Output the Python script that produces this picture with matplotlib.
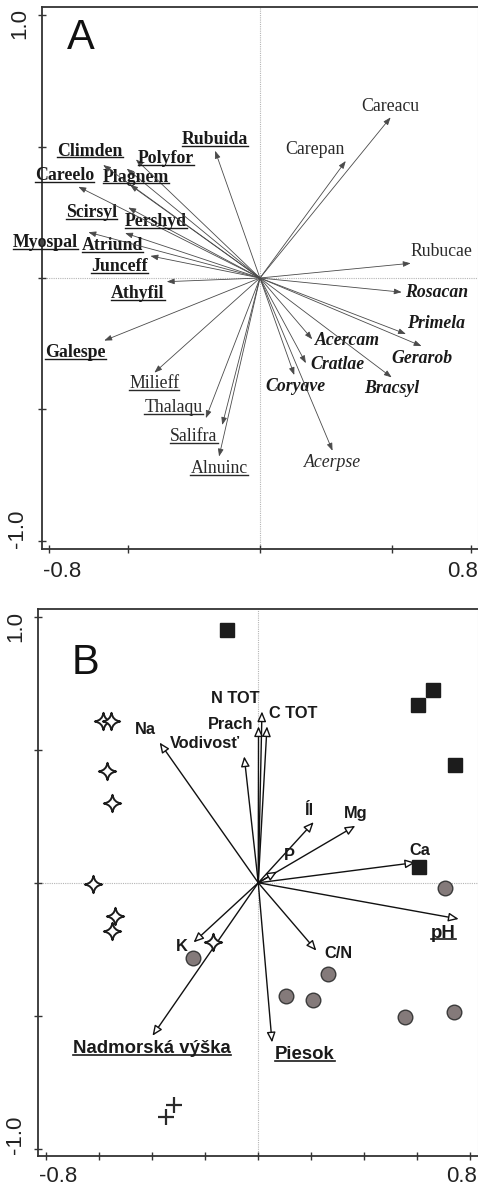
"""Two-panel ordination biplot: A = species arrows, B = environment arrows + releves."""

import matplotlib
matplotlib.use("Agg")
import matplotlib.pyplot as plt
from matplotlib.lines import Line2D
from matplotlib.path import Path
from matplotlib.patches import ArrowStyle
from matplotlib.transforms import IdentityTransform

W, H, DPI = 478, 1189, 100

# ---------------------------------------------------------------- panel A data
SPECIES = ["Careacu", "Carepan", "Rubucae", "Rosacan", "Primela", "Gerarob",
           "Acercam", "Cratlae", "Bracsyl", "Coryave", "Acerpse", "Alnuinc",
           "Salifra", "Thalaqu", "Milieff", "Galespe", "Athyfil", "Junceff",
           "Atriund", "Myospal", "Pershyd", "Scirsyl", "Careelo", "Plagnem",
           "Climden", "Polyfor", "Rubuida"]
SPECIES_X = [0.495, 0.325, 0.571, 0.537, 0.553, 0.612, 0.198, 0.174, 0.499,
             0.130, 0.275, -0.155, -0.143, -0.205, -0.400, -0.590, -0.353,
             -0.415, -0.511, -0.650, -0.499, -0.492, -0.688, -0.505, -0.594,
             -0.470, -0.170]
SPECIES_Y = [0.611, 0.445, 0.056, -0.054, -0.213, -0.259, -0.233, -0.324,
             -0.378, -0.369, -0.657, -0.679, -0.559, -0.533, -0.360, -0.238,
             -0.014, 0.084, 0.171, 0.174, 0.268, 0.354, 0.347, 0.416, 0.430,
             0.451, 0.484]
# species group -> typeface (u = underlined)
SPECIES_GROUP = ["r", "r", "r", "bi", "bi", "bi", "bi", "bi", "bi", "bi", "i",
                 "ru", "ru", "ru", "ru", "bu", "bu", "bu", "bu", "bu", "bu",
                 "bu", "bu", "bu", "bu", "bu", "bu"]
SPECIES_LABEL_XY = {
    "Careacu": (0.495, 0.654), "Carepan": (0.208, 0.490), "Rubucae": (0.688, 0.100),
    "Rosacan": (0.669, -0.054), "Primela": (0.667, -0.172), "Gerarob": (0.612, -0.305),
    "Acercam": (0.332, -0.236), "Cratlae": (0.294, -0.328), "Bracsyl": (0.499, -0.422),
    "Coryave": (0.133, -0.413), "Acerpse": (0.275, -0.701), "Alnuinc": (-0.155, -0.726),
    "Salifra": (-0.250, -0.603), "Thalaqu": (-0.328, -0.493), "Milieff": (-0.400, -0.403),
    "Galespe": (-0.698, -0.284), "Athyfil": (-0.463, -0.058), "Junceff": (-0.533, 0.043),
    "Atriund": (-0.558, 0.123), "Myospal": (-0.814, 0.136), "Pershyd": (-0.394, 0.214),
    "Scirsyl": (-0.638, 0.250), "Careelo": (-0.741, 0.389), "Plagnem": (-0.470, 0.384),
    "Climden": (-0.644, 0.483), "Polyfor": (-0.356, 0.455), "Rubuida": (-0.170, 0.527),
}

# ---------------------------------------------------------------- panel B data
ENV = ["Na", "Vodivosť", "N TOT", "Prach", "C TOT", "Íl", "Mg", "P", "Ca",
       "pH", "K", "C/N", "Nadmorská výška", "Piesok"]
ENV_X = [-0.372, -0.053, 0.014, 0.001, 0.033, 0.209, 0.366, 0.071, 0.592,
         0.756, -0.244, 0.219, -0.399, 0.052]
ENV_Y = [0.527, 0.475, 0.644, 0.588, 0.588, 0.228, 0.214, 0.042, 0.076,
         -0.136, -0.224, -0.255, -0.575, -0.600]
ENV_UNDERLINED = ["pH", "Nadmorská výška", "Piesok"]
ENV_LABEL_XY = {
    "Na": (-0.426, 0.575), "Vodivosť": (-0.200, 0.525), "N TOT": (-0.087, 0.694),
    "Prach": (-0.106, 0.594), "C TOT": (0.133, 0.638), "Íl": (0.192, 0.272),
    "Mg": (0.366, 0.259), "P": (0.118, 0.103), "Ca": (0.611, 0.121),
    "pH": (0.699, -0.189), "K": (-0.288, -0.240), "C/N": (0.301, -0.265),
    "Nadmorská výška": (-0.401, -0.624), "Piesok": (0.175, -0.647),
}

SQUARE_X = [-0.118, 0.658, 0.601, 0.741, 0.605]
SQUARE_Y = [0.949, 0.723, 0.667, 0.441, 0.058]
CIRCLE_X = [0.703, -0.248, 0.263, 0.106, 0.206, 0.555, 0.737]
CIRCLE_Y = [-0.020, -0.283, -0.343, -0.427, -0.442, -0.505, -0.484]
STAR_X = [-0.584, -0.555, -0.571, -0.550, -0.624, -0.540, -0.550, -0.172]
STAR_Y = [0.610, 0.610, 0.421, 0.300, -0.005, -0.124, -0.183, -0.223]
CROSS_X = [-0.319, -0.347]
CROSS_Y = [-0.835, -0.882]

SERIF = "Liberation Serif"
SANS = "Liberation Sans"


def px(x, y):
    """pixel position (from top-left) -> figure fraction"""
    return x / W, 1 - y / H


def style_axes(ax, xlim, ylim, xticks, yticks):
    ax.set_xlim(*xlim)
    ax.set_ylim(*ylim)
    ax.set_xticks(xticks)
    ax.set_yticks(yticks)
    ax.tick_params(direction="inout", length=6, width=1, color="#333333",
                   labelleft=False, labelbottom=False)
    for side in ("left", "bottom", "top"):
        ax.spines[side].set_color("#333333")
        ax.spines[side].set_linewidth(1.3)
    ax.spines["right"].set_color("#cfcfcf")
    ax.spines["right"].set_linewidth(0.8)
    ax.axhline(0, color="#b5b5b5", lw=0.8, ls=(0, (1, 1)), zorder=0)
    ax.axvline(0, color="#b5b5b5", lw=0.8, ls=(0, (1, 1)), zorder=0)


def star_marker():
    # four-pointed star with concave sides
    c = 0.13
    verts = [(0, 1), (c, c), (1, 0), (c, -c), (0, -1), (-c, -c), (-1, 0),
             (-c, c), (0, 1), (0, 1)]
    codes = [Path.MOVETO] + [Path.CURVE3] * 8 + [Path.CLOSEPOLY]
    return Path(verts, codes)


fig = plt.figure(figsize=(W / DPI, H / DPI), dpi=DPI)
fig.patch.set_facecolor("white")

# ---------------------------------------------------------------- panel A
axA = fig.add_axes([41.7 / W, 1 - 549.3 / H, 436 / W, 542.6 / H])
style_axes(axA, (-0.827, 0.825), (-1.032, 1.032),
           [-0.8, -0.5, 0, 0.5, 0.8], [-1, -0.5, 0, 0.5, 1])

headA = ArrowStyle("-|>", head_length=0.75, head_width=0.28)
fonts = {
    "r": dict(weight="normal", style="normal"),
    "ru": dict(weight="normal", style="normal"),
    "i": dict(weight="normal", style="italic"),
    "bi": dict(weight="bold", style="italic"),
    "bu": dict(weight="bold", style="normal"),
}
underlined = []
for name, x, y, grp in zip(SPECIES, SPECIES_X, SPECIES_Y, SPECIES_GROUP):
    axA.annotate("", xy=(x, y), xytext=(0, 0),
                 arrowprops=dict(arrowstyle=headA, color="#4a4a4a", lw=0.6,
                                 shrinkA=0, shrinkB=0, mutation_scale=6))
    lx, ly = SPECIES_LABEL_XY[name]
    col = "#2a2a2a" if grp in ("r", "ru", "i") else "#1a1a1a"
    t = axA.text(lx, ly, name, family=SERIF, fontsize=12.8, color=col,
                 ha="center", va="center", clip_on=False, **fonts[grp])
    if grp.endswith("u"):
        underlined.append((t, 1.0))

# ---------------------------------------------------------------- panel B
axB = fig.add_axes([37.7 / W, 1 - 1156 / H, 439.8 / W, 546.7 / H])
style_axes(axB, (-0.832, 0.827), (-1.027, 1.028),
           [-0.8, -0.6, -0.4, -0.2, 0, 0.2, 0.4, 0.6, 0.8],
           [-1, -0.5, 0, 0.5, 1])

headB = ArrowStyle("-|>", head_length=0.6, head_width=0.26)
for name, x, y in zip(ENV, ENV_X, ENV_Y):
    axB.annotate("", xy=(x, y), xytext=(0, 0),
                 arrowprops=dict(arrowstyle=headB, fc="white", ec="#111111",
                                 lw=1.0, shrinkA=0, shrinkB=0,
                                 mutation_scale=10), zorder=3)
    lx, ly = ENV_LABEL_XY[name]
    big = name in ENV_UNDERLINED
    t = axB.text(lx, ly, name, family=SANS, weight="bold",
                 fontsize=13.4 if big else 11.8, color="#1a1a1a",
                 ha="center", va="center", zorder=4)
    if big:
        underlined.append((t, 1.2))

axB.plot(SQUARE_X, SQUARE_Y, ls="none", marker="s", ms=10.5, mfc="#1c1c1c",
         mec="#1c1c1c", zorder=5)
axB.plot(CIRCLE_X, CIRCLE_Y, ls="none", marker="o", ms=10.5, mfc="#847a7a",
         mec="#3a3a3a", mew=1.0, zorder=5)
axB.plot(STAR_X, STAR_Y, ls="none", marker=star_marker(), ms=12.5,
         mfc="white", mec="#1c1c1c", mew=1.4, zorder=5)
axB.plot(CROSS_X, CROSS_Y, ls="none", marker="+", ms=12, mec="#2a2a2a",
         mew=1.6, zorder=5)

# ---------------------------------------------------------------- axis numbers / panel letters
tick_kw = dict(family=SANS, fontsize=16, color="#222222", ha="center", va="center")
fig.text(*px(20, 23.3), "1.0", rotation=90, **tick_kw)
fig.text(*px(18, 529), "-1.0", rotation=90, **tick_kw)
fig.text(*px(62, 571.5), "-0.8", **tick_kw)
fig.text(*px(462.5, 571.5), "0.8", **tick_kw)
fig.text(*px(16, 627), "1.0", rotation=90, **tick_kw)
fig.text(*px(16, 1135), "-1.0", rotation=90, **tick_kw)
fig.text(*px(58, 1176.5), "-0.8", **tick_kw)
fig.text(*px(461.5, 1176.5), "0.8", **tick_kw)

fig.text(*px(80.5, 38), "A", family=SANS, fontsize=30, color="#111111",
         ha="center", va="center")
fig.text(*px(85.5, 663), "B", family=SANS, fontsize=30, color="#111111",
         ha="center", va="center")

# underline: needs rendered text extents
fig.canvas.draw()
renderer = fig.canvas.get_renderer()
for t, lw in underlined:
    bb = t.get_window_extent(renderer)
    fs = t.get_fontsize() * DPI / 72
    yl = bb.y0 + 0.12 * fs
    fig.add_artist(Line2D([bb.x0, bb.x1], [yl, yl], transform=IdentityTransform(),
                          color=t.get_color(), lw=lw))

fig.savefig("out.png", dpi=DPI)
